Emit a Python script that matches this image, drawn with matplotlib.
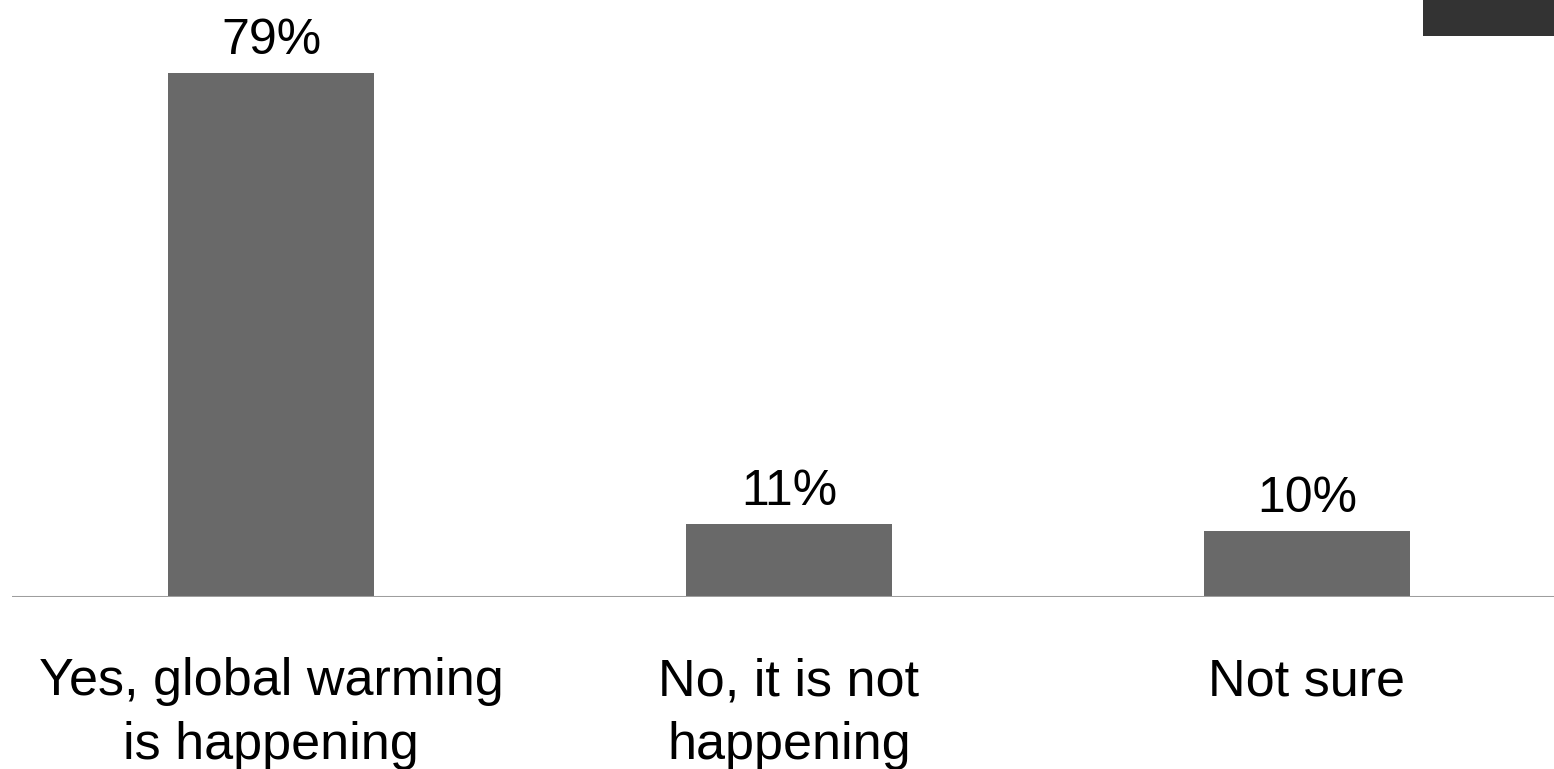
import matplotlib
matplotlib.use("Agg")
import matplotlib.pyplot as plt
from matplotlib.patches import Rectangle

categories = ["Yes, global warming\nis happening", "No, it is not\nhappening", "Not sure"]
values = [79, 11, 10]
value_labels = ["79%", "11%", "10%"]

plt.rcParams['font.family'] = ['Liberation Sans', 'DejaVu Sans']

W, H = 1554, 769
fig = plt.figure(figsize=(W / 100, H / 100), dpi=100)
fig.patch.set_facecolor('white')

# axes: x=-0.5 at px 12, 518 px per category; baseline at y px 597, 6.633 px/unit
left = 12 / W
width = 518 * 3 / W
bottom = (H - 597) / H
height = 597 / H
ax = fig.add_axes([left, bottom, width, height])
ax.set_xlim(-0.5, 2.5)
ax.set_ylim(0, 90)
ax.axis('off')

x = list(range(len(categories)))
ax.bar(x, values, width=0.398, color='#696969', zorder=2)
ax.axhline(0, color='#9e9e9e', linewidth=2.2, zorder=3)

FS_VAL = 36.0
FS_CAT = 37.5
for xi, v, lab in zip(x, values, value_labels):
    ax.annotate(lab, xy=(xi, v), xytext=(0, 13.5), textcoords='offset points',
                ha='center', va='baseline', fontsize=FS_VAL, color='#000000')

# category labels: first-line baseline 98 px below axis, 66 px line pitch
for xi, cat in zip(x, categories):
    lines = cat.split("\n")
    for k, line in enumerate(lines):
        ax.annotate(line, xy=(xi, 0), xytext=(0, -(98 + 64 * k) * 0.72),
                    textcoords='offset points', ha='center', va='baseline',
                    fontsize=FS_CAT, color='#000000')

fig.patches.append(Rectangle((1423 / W, (H - 36) / H), (W - 1423) / W, 36 / H,
                             transform=fig.transFigure, facecolor='#333333',
                             edgecolor='none', zorder=5))

fig.savefig("out.png", dpi=100, facecolor='white')
